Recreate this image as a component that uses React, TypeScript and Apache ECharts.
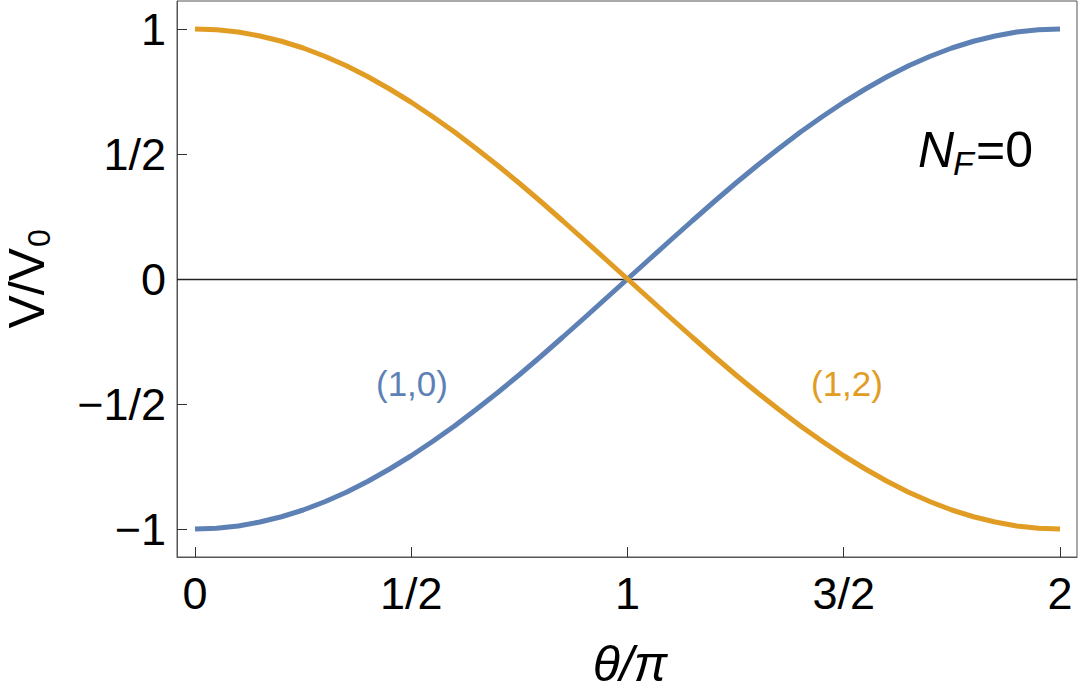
import React, { useEffect, useRef } from "react";
import * as echarts from "echarts";

const thetaOverPi = [
  0, 0.05, 0.1, 0.15, 0.2, 0.25, 0.3, 0.35, 0.4, 0.45, 0.5, 0.55, 0.6, 0.65, 0.7, 0.75, 0.8, 0.85, 0.9, 0.95, 1.0,
  1.05, 1.1, 1.15, 1.2, 1.25, 1.3, 1.35, 1.4, 1.45, 1.5, 1.55, 1.6, 1.65, 1.7, 1.75, 1.8, 1.85, 1.9, 1.95, 2.0,
];
const curve10 = [
  -1, -0.997, -0.988, -0.972, -0.951, -0.924, -0.891, -0.853, -0.809, -0.76, -0.707, -0.649, -0.588, -0.522, -0.454,
  -0.383, -0.309, -0.233, -0.156, -0.078, 0, 0.078, 0.156, 0.233, 0.309, 0.383, 0.454, 0.522, 0.588, 0.649, 0.707,
  0.76, 0.809, 0.853, 0.891, 0.924, 0.951, 0.972, 0.988, 0.997, 1,
];
const curve12 = [
  1, 0.997, 0.988, 0.972, 0.951, 0.924, 0.891, 0.853, 0.809, 0.76, 0.707, 0.649, 0.588, 0.522, 0.454, 0.383, 0.309,
  0.233, 0.156, 0.078, 0, -0.078, -0.156, -0.233, -0.309, -0.383, -0.454, -0.522, -0.588, -0.649, -0.707, -0.76,
  -0.809, -0.853, -0.891, -0.924, -0.951, -0.972, -0.988, -0.997, -1,
];
const xTicks = [0, 0.5, 1, 1.5, 2];
const xTickLabels = ["0", "1/2", "1", "3/2", "2"];
const yTicks = [-1, -0.5, 0, 0.5, 1];
const yTickLabels = ["\u22121", "\u22121/2", "0", "1/2", "1"];

const BLUE = "#5E81B5";
const ORANGE = "#E19C24";
const FONT = "'Liberation Sans', Arial, sans-serif";

export default function App() {
  const ref = useRef<HTMLDivElement>(null);
  useEffect(() => {
    if (!ref.current) return;
    const chart = echarts.init(ref.current, undefined, { renderer: "svg" });
    const pairs = (ys: number[]) => thetaOverPi.map((x, i) => [x, ys[i]]);
    chart.setOption({
      animation: false,
      backgroundColor: "#fff",
      textStyle: { fontFamily: FONT },
      grid: {
        left: 177,
        right: 3,
        top: 1,
        bottom: 140,
        show: true,
        borderColor: "#555",
        borderWidth: 1,
        containLabel: false,
      },
      xAxis: {
        type: "value",
        min: -0.0416,
        max: 2.0393,
        splitLine: { show: false },
        axisLine: { show: true, onZero: false, lineStyle: { color: "#555", width: 1 } },
        axisTick: {
          show: true,
          inside: true,
          length: 10,
          customValues: xTicks,
          lineStyle: { color: "#333", width: 1 },
        },
        axisLabel: {
          customValues: xTicks,
          fontSize: 45,
          color: "#000",
          fontFamily: FONT,
          margin: 14,
          formatter: (v: number) => {
            const i = xTicks.findIndex((t) => Math.abs(t - v) < 1e-6);
            return i >= 0 ? xTickLabels[i] : "";
          },
        },
      },
      yAxis: {
        type: "value",
        min: -1.112,
        max: 1.112,
        splitLine: { show: false },
        axisLine: { show: true, onZero: false, lineStyle: { color: "#555", width: 1 } },
        axisTick: {
          show: true,
          inside: true,
          length: 10,
          customValues: yTicks,
          lineStyle: { color: "#333", width: 1 },
        },
        axisLabel: {
          customValues: yTicks,
          fontSize: 45,
          color: "#000",
          fontFamily: FONT,
          margin: 11,
          formatter: (v: number) => {
            const i = yTicks.findIndex((t) => Math.abs(t - v) < 1e-6);
            return i >= 0 ? yTickLabels[i] : "";
          },
        },
      },
      series: [
        {
          type: "line",
          name: "(1,0)",
          data: pairs(curve10),
          smooth: false,
          showSymbol: false,
          lineStyle: { color: BLUE, width: 5 },
          z: 3,
          markLine: {
            silent: true,
            symbol: "none",
            label: { show: false },
            lineStyle: { color: "#222", width: 1.3, type: "solid" },
            data: [{ yAxis: 0 }],
            z: 2,
          },
        },
        {
          type: "line",
          name: "(1,2)",
          data: pairs(curve12),
          smooth: false,
          showSymbol: false,
          lineStyle: { color: ORANGE, width: 5 },
          z: 4,
        },
      ],
      graphic: [
        {
          type: "text",
          left: 376,
          top: 366,
          style: { text: "(1,0)", fontSize: 35, fill: BLUE, fontFamily: FONT },
        },
        {
          type: "text",
          left: 811,
          top: 366,
          style: { text: "(1,2)", fontSize: 35, fill: ORANGE, fontFamily: FONT },
        },
        {
          type: "text",
          x: 918,
          y: 150,
          style: { text: "N", fontSize: 50, fontStyle: "italic", fill: "#000", fontFamily: FONT, align: "left", verticalAlign: "middle" },
        },
        {
          type: "text",
          x: 953,
          y: 163,
          style: { text: "F", fontSize: 34, fontStyle: "italic", fill: "#000", fontFamily: FONT, align: "left", verticalAlign: "middle" },
        },
        {
          type: "text",
          x: 976,
          y: 150,
          style: { text: "=0", fontSize: 50, fill: "#000", fontFamily: FONT, align: "left", verticalAlign: "middle" },
        },
        {
          type: "text",
          x: 630,
          y: 664,
          style: { text: "\u03B8/\u03C0", fontSize: 50, fontStyle: "italic", fill: "#000", fontFamily: FONT, align: "center", verticalAlign: "middle" },
        },
        {
          type: "group",
          x: 27,
          y: 280,
          rotation: Math.PI / 2,
          children: [
            {
              type: "text",
              x: 32,
              y: 0,
              style: { text: "V/V", fontSize: 50, lineHeight: 40, fill: "#000", fontFamily: FONT, align: "right", verticalAlign: "middle" },
            },
            {
              type: "text",
              x: 33,
              y: 12,
              style: { text: "0", fontSize: 32, lineHeight: 28, fill: "#000", fontFamily: FONT, align: "left", verticalAlign: "middle" },
            },
          ],
        },
      ],
    });
    return () => chart.dispose();
  }, []);
  return (
    <div
      ref={ref}
      style={{ position: "fixed", left: 0, top: 0, width: 1080, height: 697, background: "#fff" }}
    />
  );
}
